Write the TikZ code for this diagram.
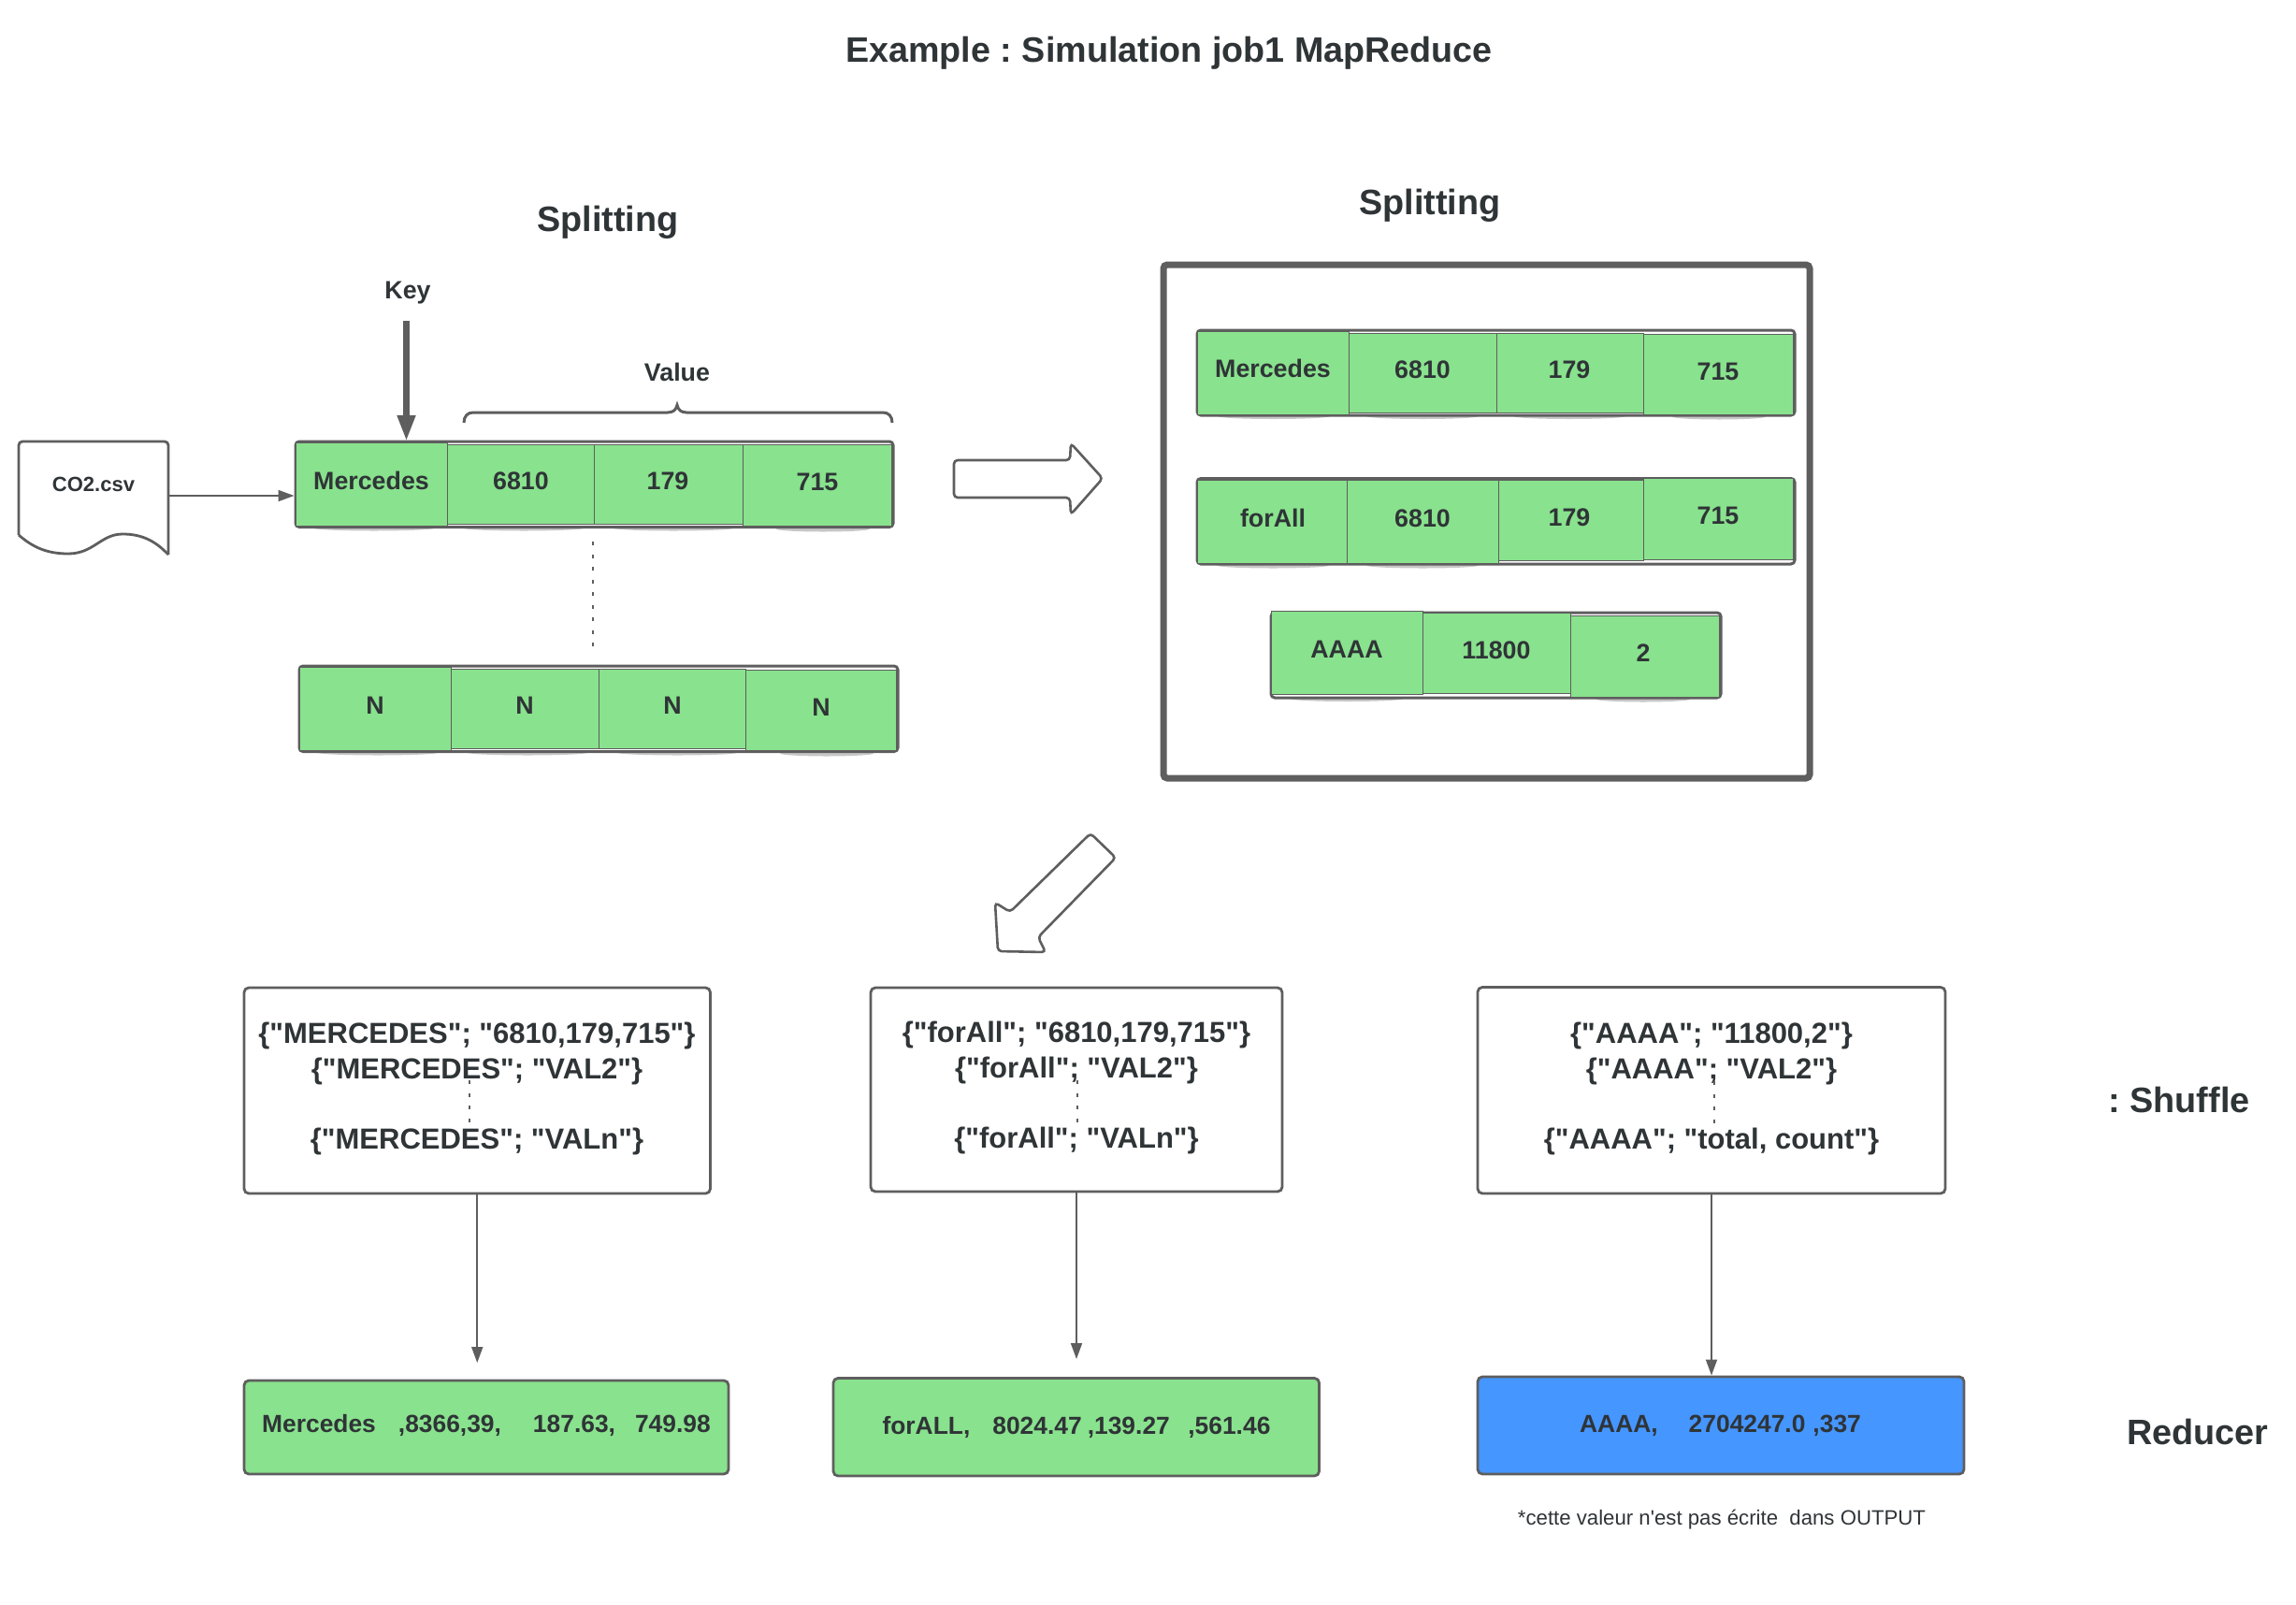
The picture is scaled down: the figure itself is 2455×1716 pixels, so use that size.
\documentclass[tikz,border=0pt]{standalone}
\usepackage{fontspec}
\newfontfamily\lsans{Liberation Sans}
\usetikzlibrary{arrows.meta}
\definecolor{ln}{HTML}{5E5E5E}
\definecolor{tx}{HTML}{2F3437}
\definecolor{gr}{HTML}{89E28D}
\definecolor{bl}{HTML}{4596FF}
\newcommand\fsz[1]{\lsans\fontsize{#1}{#1}\selectfont\frenchspacing}
\tikzset{
  x=1pt,y=-1pt,
  title/.style={text=tx,font=\bfseries\fsz{37.7},inner sep=0,outer sep=0},
  head/.style={text=tx,font=\bfseries\fsz{37.8},inner sep=0,outer sep=0},
  lab/.style={text=tx,font=\bfseries\fsz{26.8},inner sep=0,outer sep=0},
  celltxt/.style={text=tx,font=\bfseries\fsz{26.8},inner sep=0,outer sep=0},
  reslab/.style={text=tx,font=\bfseries\fsz{26.4},inner sep=0,outer sep=0},
  cjson/.style={text=tx,font=\bfseries\lsans\fontsize{31}{37.4}\selectfont\frenchspacing,align=center,inner sep=0,outer sep=0},
  rowbar/.style={draw=ln,line width=3,rounded corners=4,fill=white,inner sep=0,outer sep=0},
  cellbg/.style={fill=gr,draw=ln,line width=1},
  shad/.style={fill=black!22},
  plainbox/.style={draw=ln,line width=2.8,rounded corners=5,fill=white,inner sep=0,outer sep=0},
  resgreen/.style={draw=ln,line width=2.8,rounded corners=5,fill=gr,inner sep=0,outer sep=0},
  resblue/.style={draw=ln,line width=2.8,rounded corners=5,fill=bl,inner sep=0,outer sep=0},
  ghost/.style={inner sep=0,outer sep=0},
  frameb/.style={draw=ln,line width=7,rounded corners=4,fill=white,inner sep=0,outer sep=0},
  flowarr/.style={draw=ln,line width=1.8,-{Triangle[length=17,width=12,fill=ln]}},
  keyarr/.style={draw=ln,line width=7.5,-{Triangle[length=28,width=18,fill=ln]}},
  outlinearr/.style={draw=ln,line width=2.6,rounded corners=4,fill=white},
  dotsv/.style={draw=ln,line width=2.6,dash pattern=on 4 off 9.5},
}
\newcommand\rnode[6]{\node[#6,minimum width={(#4)-(#2)},minimum height={(#5)-(#3)}] (#1) at ({((#2)+(#4))/2},{((#3)+(#5))/2}) {};}
\newcommand\cellc[8]{%
  \draw[cellbg] (#2,#3) rectangle (#4,#5);
  \node[celltxt] (#1) at (#6,#7) {#8};}
\newcommand\shd[3]{\fill[shad] (#1,#3) ellipse ({#2} and 3);}
\begin{document}
\begin{tikzpicture}
\useasboundingbox (0,0) rectangle (2455,1716);
\fill[white] (0,0) rectangle (2455,1716);

\node[title] (ttl) at (1250,57) {Example : Simulation job1 MapReduce};
\node[head] (spl) at (650,238) {Splitting};
\node[head] (spr) at (1529,220) {Splitting};
\node[lab,minimum height=60] (key) at (436,313) {Key};
\node[lab] (val) at (724,398) {Value};

% source document
\draw[draw=ln,line width=2.8,fill=white,rounded corners=4] (20,572) -- (20,472) -- (180,472) -- (180,593);
\draw[draw=ln,line width=2.8] (180,593) .. controls (165,577) and (150,571) .. (131,571) .. controls (108,571) and (100,592) .. (73,592) .. controls (50,592) and (35,585) .. (20,572);
\node[ghost,minimum width=160,minimum height=116] (doc) at (100,530) {};
\node[text=tx,font=\bfseries\fsz{22},inner sep=0,outer sep=0] (docl) at (100,518) {CO2.csv};

% row 1
\shd{400}{65}{564.5} \shd{560}{65}{564.5} \shd{720}{65}{564.5} \shd{880}{50}{565.5}
\rnode{row1}{316}{472}{955}{563.5}{rowbar}
\cellc{r1a}{316}{473}{478}{562}{397}{513.5}{Mercedes}
\cellc{r1b}{478}{475}{635}{560}{557}{514}{6810}
\cellc{r1c}{635}{475}{794}{560}{714}{514}{179}
\cellc{r1d}{794}{475}{953}{562}{874}{515.5}{715}

% row N
\shd{404}{65}{804.5} \shd{564}{65}{804.5} \shd{724}{65}{804.5} \shd{884}{50}{805.5}
\rnode{rown}{320}{712}{960}{803.5}{rowbar}
\cellc{rna}{320}{713}{482.5}{802}{401}{754}{N}
\cellc{rnb}{482.5}{715}{640}{800}{561}{754}{N}
\cellc{rnc}{640}{715}{797.5}{800}{719}{754}{N}
\cellc{rnd}{797.5}{716}{958}{802}{878}{756}{N}

% brace
\draw[draw=ln,line width=3] (496,452) .. controls (496,445) and (500,441) .. (506,441) -- (714,441) .. controls (720,441) and (723,438) .. (724,433) .. controls (725,438) and (728,441) .. (734,441) -- (944,441) .. controls (950,441) and (954,445) .. (954,452);

% arrows at the top left
\draw[flowarr,shorten >=1.5] (doc.east) -- (doc.east -| row1.west);
\draw[keyarr] ([xshift=-1.5]key.south) -- ([xshift=-1.5]key.south |- row1.north);
\coordinate (dota) at (634,579);
\coordinate (dotb) at (634,697);
\draw[dotsv] (dota) -- (dotb);

% big arrow
\draw[outlinearr] (1020,492) -- (1144,492) -- (1145,474) -- (1179,511.5) -- (1145,550) -- (1144,532) -- (1020,532) -- cycle;

% frame
\rnode{frame}{1244}{283}{1935}{832}{frameb}

% Mercedes row
\shd{1362}{60}{445} \shd{1521}{60}{445} \shd{1678}{60}{445} \shd{1838}{50}{445.5}
\rnode{mrow}{1280}{353}{1919}{444}{rowbar}
\cellc{ma}{1280}{354}{1442}{443}{1361}{394}{Mercedes}
\cellc{mb}{1442}{356}{1600}{441}{1521}{395}{6810}
\cellc{mc}{1600}{356}{1757}{441}{1678}{395}{179}
\cellc{md}{1757}{357}{1917}{443}{1837}{397}{715}

% forAll row
\shd{1361}{60}{604.5} \shd{1521}{60}{604.5}
\rnode{frow}{1280}{511.5}{1919}{603}{rowbar}
\cellc{fa}{1280}{513}{1440}{602}{1361}{554}{forAll}
\cellc{fb}{1440}{513}{1602}{602}{1521}{554}{6810}
\cellc{fc}{1602}{513.5}{1757}{599}{1678}{553}{179}
\cellc{fd}{1757}{511.5}{1917}{598}{1837}{551.5}{715}

% AAAA row
\shd{1440}{60}{747} \shd{1757}{50}{747.5}
\rnode{arow}{1359}{655}{1840}{746}{rowbar}
\cellc{aa}{1359}{653}{1521}{742}{1440}{694}{AAAA}
\cellc{ab}{1521}{655.5}{1679}{741.5}{1600}{695}{11800}
\cellc{ac}{1679}{658}{1838}{745}{1757}{698}{2}

% diagonal arrow
\draw[outlinearr] (1166,891) -- (1193,917) -- (1110,1002) -- (1118,1018) -- (1067,1017) -- (1064,965) -- (1080,975) -- cycle;

% shuffle boxes
\rnode{b1}{261}{1056}{759.5}{1276}{plainbox}
\rnode{b2}{931}{1056}{1371}{1274}{plainbox}
\rnode{b3}{1580}{1055.5}{2080}{1276}{plainbox}
\node[cjson] (b1t) at (510,1164) {\{"MERCEDES"; "6810,179,715"\}\\\{"MERCEDES"; "VAL2"\}\\ \mbox{}\\\{"MERCEDES"; "VALn"\}};
\node[cjson] (b2t) at (1151,1163) {\{"forAll"; "6810,179,715"\}\\\{"forAll"; "VAL2"\}\\ \mbox{}\\\{"forAll"; "VALn"\}};
\node[cjson] (b3t) at (1830,1164) {\{"AAAA"; "11800,2"\}\\\{"AAAA"; "VAL2"\}\\ \mbox{}\\\{"AAAA"; "total, count"\}};
\coordinate (d1a) at (502,1155); \coordinate (d1b) at (502,1204);
\coordinate (d2a) at (1152,1155); \coordinate (d2b) at (1152,1204);
\coordinate (d3a) at (1833,1156); \coordinate (d3b) at (1833,1205);
\draw[dotsv,line width=1.8] (d1a) -- (d1b);
\draw[dotsv,line width=1.8] (d2a) -- (d2b);
\draw[dotsv,line width=1.8] (d3a) -- (d3b);

% reducer boxes
\rnode{g1}{261}{1476}{779}{1576}{resgreen}
\rnode{g2}{891}{1473.5}{1410.5}{1578}{resgreen}
\rnode{g3}{1580}{1472}{2100}{1576}{resblue}
\node[reslab] (g1t) at (520,1523.5) {Mercedes\hspace{24pt},8366,39,\hspace{34pt}187.63,\hspace{21pt}749.98};
\node[reslab] (g2t) at (1151,1526) {forALL,\hspace{24pt}8024.47\hspace{6pt},139.27\hspace{19.5pt},561.46};
\node[reslab] (g3t) at (1839.5,1524) {AAAA,\hspace{33pt}2704247.0\hspace{8pt},337};

\draw[flowarr,shorten >=19] (b1.south) -- (b1.south |- g1.north);
\draw[flowarr,shorten >=20.5] (b2.south) -- (b2.south |- g2.north);
\draw[flowarr,shorten >=1.5] (b3.south) -- (b3.south |- g3.north);

\node[text=tx,font=\fsz{22.2},inner sep=0,outer sep=0] (note) at (1841,1625) {*cette valeur n'est pas écrite\hspace{6.2pt} dans OUTPUT};
\node[head] (shf) at (2330,1176) {: Shuffle};
\node[head] (red) at (2350,1531) {Reducer};
\end{tikzpicture}
\end{document}
